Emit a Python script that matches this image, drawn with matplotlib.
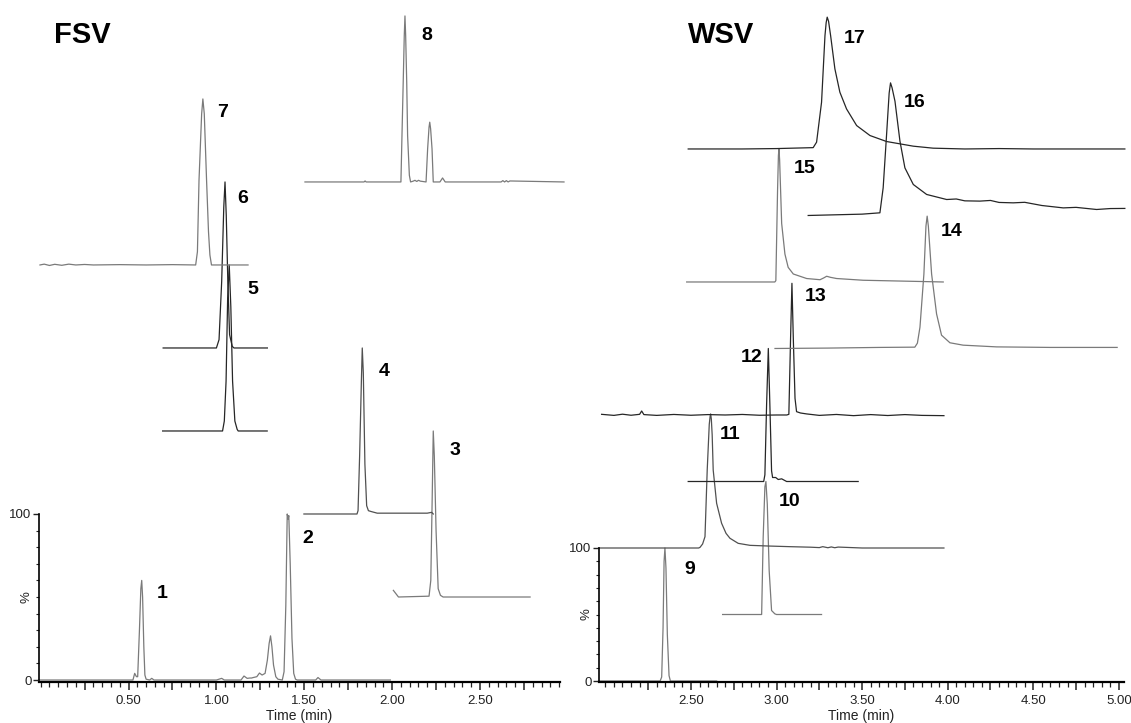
import matplotlib
matplotlib.use("Agg")
import matplotlib.pyplot as plt
from matplotlib.ticker import FixedLocator, MultipleLocator, FuncFormatter

# ---- FSV chromatograms: time (min) / relative intensity (%) ----
fsv_12_t = [-0.012, 0.50, 0.525, 0.535, 0.545, 0.552, 0.562, 0.570, 0.575, 0.580, 0.587,
            0.593, 0.600, 0.620, 0.632, 0.645, 1.00, 1.03, 1.045, 1.14, 1.157, 1.175,
            1.19, 1.20, 1.21, 1.23, 1.245, 1.26, 1.277, 1.29, 1.300, 1.308, 1.316, 1.325,
            1.338, 1.35, 1.375, 1.385, 1.395, 1.403, 1.408, 1.412, 1.420, 1.430, 1.440,
            1.450, 1.46, 1.565, 1.578, 1.595, 1.99]
fsv_12_i = [0, 0, 0, 4, 2, 2, 30, 55, 60, 50, 20,
            3, 0.5, 0, 1, 0, 0, 1, 0, 0, 2.4, 1,
            1.2, 1.2, 1.5, 2, 4.2, 3, 4, 12, 22, 26.6, 20, 9,
            2, 0.5, 0, 5, 45, 100, 97, 99, 70, 25, 4,
            0.5, 0, 0, 1.5, 0, 0]

fsv_3_t = [2.007, 2.036, 2.21, 2.22, 2.228, 2.234, 2.24, 2.25, 2.262, 2.275, 2.29, 2.785]
fsv_3_i = [4, 0, 0.5, 10, 60, 100, 85, 40, 5, 1, 0, 0]

fsv_4_t = [1.498, 1.80, 1.806, 1.815, 1.825, 1.830, 1.836, 1.845, 1.855, 1.865, 1.88,
           1.915, 2.20, 2.225, 2.234]
fsv_4_i = [0, 0, 2, 35, 80, 100, 85, 30, 5, 2, 1.5, 0.5, 0.5, 1, 0]

fsv_5_t = [0.694, 1.035, 1.045, 1.055, 1.064, 1.073, 1.082, 1.092, 1.105, 1.118, 1.124, 1.289]
fsv_5_i = [0, 0, 6, 30, 80, 100, 75, 30, 6, 1, 0, 0]

fsv_6_t = [0.697, 1.00, 1.015, 1.03, 1.042, 1.049, 1.056, 1.065, 1.075, 1.09, 1.10, 1.29]
fsv_6_i = [0, 0, 5, 40, 85, 100, 80, 40, 8, 1, 0, 0]

fsv_7_t = [-0.004, 0.02, 0.05, 0.08, 0.12, 0.16, 0.20, 0.25, 0.30, 0.45, 0.60, 0.75, 0.882,
           0.892, 0.901, 0.916, 0.923, 0.931, 0.944, 0.955, 0.963, 0.972, 1.18]
fsv_7_i = [0, 0.5, -0.3, 0.4, -0.2, 0.5, 0, 0.3, 0, 0.2, 0, 0.2, 0,
           8, 51, 91, 100, 91, 51, 20, 6, 0, 0]

fsv_8_t = [1.504, 1.84, 1.846, 1.852, 2.050, 2.056, 2.063, 2.069, 2.073, 2.077, 2.083,
           2.088, 2.098, 2.105, 2.12, 2.13, 2.14, 2.15, 2.16, 2.193, 2.202, 2.210, 2.214,
           2.219, 2.227, 2.234, 2.272, 2.287, 2.302, 2.62, 2.63, 2.64, 2.65, 2.66, 2.67,
           2.978]
fsv_8_i = [0, 0, 0.6, 0, 0, 28, 60, 88, 100, 88, 60,
           28, 4, 0, 0.5, 1, 0.3, 1, 0.5, 0, 20, 33, 36,
           32, 20, 0, 0, 2.4, 0, 0, 0.8, 0, 0.8, 0, 0.6,
           0]

# ---- WSV chromatograms ----
wsv_9_t = [1.96, 2.32, 2.329, 2.337, 2.343, 2.348, 2.354, 2.362, 2.372, 2.38, 2.65]
wsv_9_i = [0, 0, 3, 40, 90, 100, 85, 35, 4, 0, 0]

wsv_10_t = [2.685, 2.905, 2.913, 2.922, 2.932, 2.938, 2.946, 2.957, 2.971, 2.99, 3.0, 3.263]
wsv_10_i = [0, 0, 0, 58, 96, 100, 83, 33, 3, 0.5, 0, 0]

wsv_11_t = [1.96, 2.545, 2.553, 2.568, 2.582, 2.595, 2.607, 2.612, 2.615, 2.619, 2.624,
            2.630, 2.650, 2.679, 2.705, 2.728, 2.776, 2.845, 2.95, 3.078, 3.20, 3.25,
            3.27, 3.30, 3.32, 3.34, 3.36, 3.50, 3.978]
wsv_11_i = [0, 0, 0.5, 3, 8.5, 58.6, 93, 99, 100.8, 97, 85,
            58.6, 33.6, 18.6, 11, 7.3, 3.5, 2, 1.5, 1, 0.6, 0.3,
            1, 0.2, 0.8, 0.2, 0.7, 0, 0]

wsv_12_t = [2.484, 2.925, 2.932, 2.942, 2.952, 2.961, 2.971, 2.977, 2.995, 3.01, 3.03,
            3.059, 3.477]
wsv_12_i = [0, 0, 5, 58, 100, 58, 8, 3, 3, 1.5, 2, 0, 0]

wsv_13_t = [1.978, 2.05, 2.10, 2.15, 2.20, 2.212, 2.225, 2.30, 2.40, 2.50, 2.60, 2.70,
            2.80, 2.90, 3.00, 3.06, 3.072, 3.082, 3.09, 3.098, 3.108, 3.117, 3.14, 3.176,
            3.25, 3.35, 3.45, 3.55, 3.65, 3.75, 3.85, 3.978]
wsv_13_i = [0.5, -0.3, 0.6, -0.2, 0.5, 3, 0.3, -0.3, 0.4, -0.2, 0.3, 0,
            0.4, -0.2, 0, 0, 0.5, 57.6, 99, 57.6, 12.5, 2.5, 1.5, 0.8,
            -0.3, 0.4, -0.5, 0.3, -0.4, 0.3, -0.3, -0.5]

wsv_14_t = [2.991, 3.30, 3.60, 3.808, 3.823, 3.838, 3.861, 3.873, 3.880, 3.887, 3.906,
            3.935, 3.964, 4.013, 4.09, 4.286, 4.60, 4.99]
wsv_14_i = [0, 0.3, 0.8, 1, 4, 16, 56, 92, 99.5, 92, 56,
            26, 10, 4.3, 2.5, 1.2, 0.8, 0.8]

wsv_15_t = [2.475, 2.99, 2.996, 3.006, 3.011, 3.014, 3.018, 3.030, 3.049, 3.068, 3.098,
            3.176, 3.254, 3.275, 3.293, 3.315, 3.351, 3.506, 3.974]
wsv_15_i = [0, 0, 1, 69, 95, 100, 92, 44, 21, 11, 6,
            2.6, 1.7, 3, 4.3, 3.5, 2.6, 1.3, 0]

wsv_16_t = [3.185, 3.50, 3.604, 3.623, 3.643, 3.658, 3.666, 3.675, 3.692, 3.721, 3.750,
            3.799, 3.877, 3.994, 4.05, 4.10, 4.188, 4.25, 4.30, 4.383, 4.45, 4.55, 4.675,
            4.75, 4.87, 4.95, 5.035]
wsv_16_i = [0, 1, 2, 20.8, 60.9, 92, 99.7, 96, 85.9, 55.9, 35.8,
            23.3, 15.8, 12, 12.4, 11, 10.8, 11.3, 9.8, 9.5, 9.9, 7.5, 5.7,
            6.1, 4.5, 5.2, 5.3]

wsv_17_t = [2.484, 2.80, 3.00, 3.214, 3.234, 3.263, 3.283, 3.290, 3.296, 3.304, 3.316,
            3.341, 3.370, 3.409, 3.468, 3.546, 3.643, 3.799, 3.915, 4.10, 4.30, 4.50,
            4.70, 5.035]
wsv_17_i = [0, 0, 0.3, 1, 5.1, 35.1, 85.2, 95, 99.1, 96, 85.2,
            60.2, 42.7, 30.1, 17.6, 10.1, 5.6, 2.1, 0.6, 0, 0.3, 0,
            0, 0]

# ---- layout: (time, intensity, baseline offset, colour, label, label position) ----
GREY = "#7a7a7a"
MID = "#505050"
DARK = "#262626"

fsv_traces = [
    (fsv_12_t, fsv_12_i, 0, GREY, None, None),
    (fsv_3_t, fsv_3_i, 50, GREY, "3", (2.36, 138)),
    (fsv_4_t, fsv_4_i, 100, MID, "4", (1.955, 186)),
    (fsv_5_t, fsv_5_i, 150, DARK, "5", (1.208, 235)),
    (fsv_6_t, fsv_6_i, 200, DARK, "6", (1.147, 290)),
    (fsv_7_t, fsv_7_i, 250, GREY, "7", (1.033, 342)),
    (fsv_8_t, fsv_8_i, 300, GREY, "8", (2.196, 388)),
]
fsv_extra_labels = [("1", (0.693, 52)), ("2", (1.517, 85.5))]

wsv_traces = [
    (wsv_9_t, wsv_9_i, 0, GREY, "9", (2.494, 83.5)),
    (wsv_10_t, wsv_10_i, 50, GREY, "10", (3.078, 135)),
    (wsv_11_t, wsv_11_i, 100, MID, "11", (2.728, 185)),
    (wsv_12_t, wsv_12_i, 150, DARK, "12", (2.855, 243)),
    (wsv_13_t, wsv_13_i, 200, DARK, "13", (3.228, 289)),
    (wsv_14_t, wsv_14_i, 250, GREY, "14", (4.023, 338)),
    (wsv_15_t, wsv_15_i, 300, GREY, "15", (3.166, 385)),
    (wsv_16_t, wsv_16_i, 350, DARK, "16", (3.808, 435)),
    (wsv_17_t, wsv_17_i, 400, DARK, "17", (3.458, 483)),
]

plt.rcParams["font.family"] = ["Liberation Sans", "DejaVu Sans"]

fig = plt.figure(figsize=(11.31, 7.23), dpi=100)
ax_l = fig.add_axes([0.0341, 0.0567, 0.4610, 0.9433])
ax_r = fig.add_axes([0.5292, 0.0567, 0.4646, 0.9433])


def draw_panel(ax, traces, xlim, ylim, majors, title, title_pos):
    for t, inten, off, color, label, pos in traces:
        ax.plot(t, [v + off for v in inten], color=color, lw=0.9, clip_on=False)
        if label:
            ax.text(pos[0], pos[1], label, fontsize=14, fontweight="bold",
                    ha="center", va="center")
    ax.text(title_pos[0], title_pos[1], title, fontsize=21, fontweight="bold",
            ha="left", va="center")

    ax.set_xlim(*xlim)
    ax.set_ylim(*ylim)
    for side in ("top", "right"):
        ax.spines[side].set_visible(False)
    ax.spines["left"].set_bounds(0, 100)
    ax.spines["left"].set_linewidth(1.2)
    ax.spines["bottom"].set_linewidth(1.6)

    ax.xaxis.set_major_locator(FixedLocator(majors))
    ax.xaxis.set_minor_locator(MultipleLocator(0.05))
    ax.xaxis.set_major_formatter(FuncFormatter(
        lambda v, p: f"{v:.2f}" if abs(v * 2 - round(v * 2)) < 1e-6 else ""))
    ax.yaxis.set_major_locator(FixedLocator([0, 100]))
    ax.yaxis.set_minor_locator(FixedLocator(range(10, 100, 10)))
    ax.tick_params(axis="x", which="major", length=6, width=1.1, labelsize=9.5,
                   pad=3, colors="#222222")
    ax.tick_params(axis="x", which="minor", length=3.5, width=0.9, colors="#222222")
    ax.tick_params(axis="y", which="major", length=4, width=1, labelsize=9.5,
                   pad=1, colors="#222222")
    ax.tick_params(axis="y", which="minor", length=2.5, width=0.8, colors="#222222")
    ax.set_xlabel("Time (min)", fontsize=10, labelpad=2, color="#222222")
    ax.annotate("%", xy=(0, 50), xycoords=("axes fraction", "data"),
                xytext=(-9, 0), textcoords="offset points", rotation=90,
                ha="center", va="center", fontsize=9.5, color="#222222")
    ax.set_facecolor("none")


draw_panel(ax_l, fsv_traces, (-0.012, 2.955), (-1.2, 409.6),
           [0.25 * k for k in range(1, 12)], "FSV", (0.075, 388.6))
for label, pos in fsv_extra_labels:
    ax_l.text(pos[0], pos[1], label, fontsize=14, fontweight="bold",
              ha="center", va="center")

draw_panel(ax_r, wsv_traces, (1.96, 5.03), (-0.75, 512),
           [0.25 * k for k in range(9, 21)], "WSV", (2.484, 485.7))

fig.savefig("out.png", dpi=100)
